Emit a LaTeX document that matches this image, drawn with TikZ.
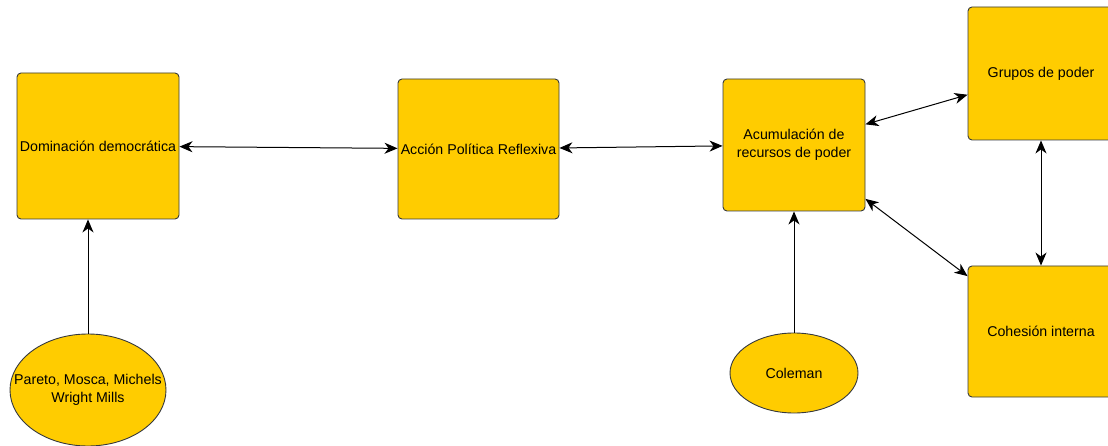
\documentclass[tikz,border=0pt]{standalone}
\usepackage{fontspec}
\setmainfont{Liberation Sans}
\usepackage{tikz}
\usetikzlibrary{shapes.geometric, arrows.meta, positioning, calc}
\definecolor{PoderGold}{HTML}{FFCC00}
\definecolor{PoderDark}{HTML}{36393D}

\begin{document}
\begin{tikzpicture}[x=1pt, y=-1pt, every node/.style={font=\fontsize{14.2}{18}\selectfont}]
      \tikzset{
        box/.style={rectangle, rounded corners=4pt, draw=PoderDark, fill=PoderGold, line width=0.9pt, inner sep=0pt, align=center},
        actor/.style={ellipse, draw=PoderDark, fill=PoderGold, line width=0.9pt, inner sep=0pt},
        link/.style={{Stealth[length=13pt, width=11pt, inset=4pt]}-{Stealth[length=13pt, width=11pt, inset=4pt]}, line width=1pt, color=black},
        feed/.style={-{Stealth[length=13pt, width=11pt, inset=4pt]}, line width=1pt, color=black}
      }
      \useasboundingbox (0,0) rectangle (1108,446);
      \node[box, minimum width=162, minimum height=146] (dom) at (98,146) {Dominación democrática};
      \node[box, minimum width=161, minimum height=140] (accion) at (478.5,149) {Acción Política Reflexiva};
      \node[box, minimum width=142, minimum height=132] (acum) at (794,145) {Acumulación de\\recursos de poder};
      \node[box, minimum width=146, minimum height=133] (grupos) at (1041,73.5) {Grupos de poder};
      \node[box, minimum width=146, minimum height=131] (cohesion) at (1041,331.5) {Cohesión interna};
      \node[actor, minimum width=156, minimum height=112,
        label={[align=center]center:Pareto, Mosca, Michels\\Wright Mills}] (pareto) at (88,390) {};
      \node[actor, minimum width=128, minimum height=80,
        label={center:Coleman}] (coleman) at (794,373) {};

      \draw[link] (dom) -- (accion);
      \draw[link] (accion) -- (acum);
      \draw[link] (acum) -- (grupos);
      \draw[link] (acum) -- (cohesion);
      \draw[link] (grupos) -- (cohesion);
      \draw[feed] (pareto.north) -- (pareto.north |- dom.south);
      \draw[feed] (coleman) -- (acum);
    \end{tikzpicture}
\end{document}
